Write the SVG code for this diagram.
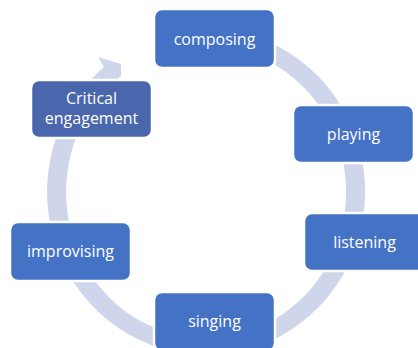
<svg xmlns="http://www.w3.org/2000/svg" width="418" height="348" viewBox="0 0 418 348">
<style>
.node rect{fill:#4472C4;stroke:#FFFFFF;stroke-width:2.5}
.node.dark rect{fill:#4A66AC}
.node text{font-family:"Open Sans","Liberation Sans",sans-serif;font-size:16px;fill:#FFFFFF;text-anchor:middle}
.ring{fill:#CFD5EA}
</style>
<rect width="418" height="348" fill="#FFFFFF"/>
<g id="connectors">
<path class="ring" d="M200,29.1 A159,163 0 1 1 104,67 L98,57 L121,64 L121,76 A140,146 0 1 0 200,46.1 Z"/>
</g>
<g id="composing" class="node"><rect x="154" y="9" width="121" height="59" rx="8"/><text x="214.5" y="45">composing</text></g>
<g id="critical" class="node dark"><rect x="31" y="80" width="121" height="58" rx="8"/><text x="91.5" y="104">Critical</text><text x="91.5" y="124">engagement</text></g>
<g id="playing" class="node"><rect x="293" y="105" width="121" height="58" rx="8"/><text x="353.5" y="140">playing</text></g>
<g id="listening" class="node"><rect x="304" y="213" width="121" height="58" rx="8"/><text x="364.5" y="248">listening</text></g>
<g id="improvising" class="node"><rect x="10" y="222" width="121" height="59" rx="8"/><text x="70.5" y="257">improvising</text></g>
<g id="singing" class="node"><rect x="154" y="292" width="121" height="59" rx="8"/><text x="214.5" y="327">singing</text></g>
</svg>
